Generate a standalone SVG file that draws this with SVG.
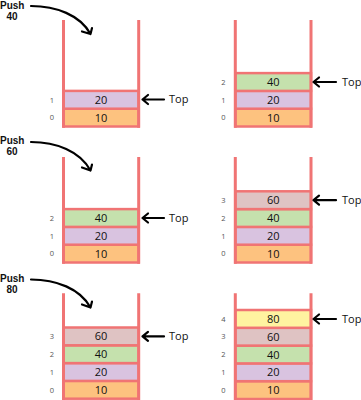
<svg xmlns="http://www.w3.org/2000/svg" width="361" height="400" viewBox="0 0 361 400">
<style>
.wall{stroke:#f07474;stroke-width:3;fill:none}
.cell{stroke:#f07474;stroke-width:2.5}
.c10{fill:#fdc27f}.c20{fill:#d9c3e0}.c40{fill:#c5e1ad}.c60{fill:#dfc3c3}.c80{fill:#fff3a0}
.num{font-family:'Open Sans','Liberation Sans',sans-serif;font-size:11px;fill:#111;text-anchor:middle}
.idx{font-family:'Open Sans','Liberation Sans',sans-serif;font-size:7.5px;fill:#555;text-anchor:middle}
.lbl{font-family:'Open Sans','Liberation Sans',sans-serif;font-size:11px;font-weight:500;fill:#111}
.push{font-family:'Liberation Sans',Arial,sans-serif;font-size:10px;font-weight:bold;fill:#111}
.arr{stroke:#000;stroke-width:2.2;fill:none;stroke-linecap:round;stroke-linejoin:round}
</style>
<rect width="361" height="400" fill="#fff"/>

<g id="stack1">
<rect class="cell c10" x="63.5" y="108.7" width="75.2" height="17.8"/>
<rect class="cell c20" x="63.5" y="90.9" width="75.2" height="17.8"/>
<path class="wall" d="M63.5 20V127.8M138.7 20V127.8"/>
<text class="num" x="101.1" y="121.6">10</text><text class="num" x="101.1" y="103.8">20</text>
<text class="idx" x="52" y="120.3">0</text><text class="idx" x="52" y="102.5">1</text>
</g>

<g id="stack2">
<rect class="cell c10" x="235.3" y="108.7" width="75.7" height="17.8"/>
<rect class="cell c20" x="235.3" y="90.9" width="75.7" height="17.8"/>
<rect class="cell c40" x="235.3" y="73.1" width="75.7" height="17.8"/>
<path class="wall" d="M235.3 20V127.8M311 20V127.8"/>
<text class="num" x="273.2" y="121.6">10</text><text class="num" x="273.2" y="103.8">20</text><text class="num" x="273.2" y="86">40</text>
<text class="idx" x="223.5" y="120.3">0</text><text class="idx" x="223.5" y="102.5">1</text><text class="idx" x="223.5" y="84.7">2</text>
</g>

<g id="stack3">
<rect class="cell c10" x="63.5" y="244.7" width="75.2" height="17.8"/>
<rect class="cell c20" x="63.5" y="226.9" width="75.2" height="17.8"/>
<rect class="cell c40" x="63.5" y="209.1" width="75.2" height="17.8"/>
<path class="wall" d="M63.5 157V263.8M138.7 157V263.8"/>
<text class="num" x="101.1" y="257.6">10</text><text class="num" x="101.1" y="239.8">20</text><text class="num" x="101.1" y="222">40</text>
<text class="idx" x="52" y="256.3">0</text><text class="idx" x="52" y="238.5">1</text><text class="idx" x="52" y="220.7">2</text>
</g>

<g id="stack4">
<rect class="cell c10" x="235.3" y="244.7" width="75.7" height="17.8"/>
<rect class="cell c20" x="235.3" y="226.9" width="75.7" height="17.8"/>
<rect class="cell c40" x="235.3" y="209.1" width="75.7" height="17.8"/>
<rect class="cell c60" x="235.3" y="191.3" width="75.7" height="17.8"/>
<path class="wall" d="M235.3 157V263.8M311 157V263.8"/>
<text class="num" x="273.2" y="257.6">10</text><text class="num" x="273.2" y="239.8">20</text><text class="num" x="273.2" y="222">40</text><text class="num" x="273.2" y="204.2">60</text>
<text class="idx" x="223.5" y="256.3">0</text><text class="idx" x="223.5" y="238.5">1</text><text class="idx" x="223.5" y="220.7">2</text><text class="idx" x="223.5" y="202.9">3</text>
</g>

<g id="stack5">
<rect class="cell c10" x="63.5" y="380.9" width="75.2" height="17.8"/>
<rect class="cell c20" x="63.5" y="363.1" width="75.2" height="17.8"/>
<rect class="cell c40" x="63.5" y="345.3" width="75.2" height="17.8"/>
<rect class="cell c60" x="63.5" y="327.5" width="75.2" height="17.8"/>
<path class="wall" d="M63.5 293.3V400M138.7 293.3V400"/>
<text class="num" x="101.1" y="393.8">10</text><text class="num" x="101.1" y="376">20</text><text class="num" x="101.1" y="358.2">40</text><text class="num" x="101.1" y="340.4">60</text>
<text class="idx" x="52" y="392.5">0</text><text class="idx" x="52" y="374.7">1</text><text class="idx" x="52" y="356.9">2</text><text class="idx" x="52" y="339.1">3</text>
</g>

<g id="stack6">
<rect class="cell c10" x="235.3" y="381.2" width="75.7" height="17.8"/>
<rect class="cell c20" x="235.3" y="363.4" width="75.7" height="17.8"/>
<rect class="cell c40" x="235.3" y="345.6" width="75.7" height="17.8"/>
<rect class="cell c60" x="235.3" y="327.8" width="75.7" height="17.8"/>
<rect class="cell c80" x="235.3" y="310" width="75.7" height="17.8"/>
<path class="wall" d="M235.3 293.3V400M311 293.3V400"/>
<text class="num" x="273.2" y="394.1">10</text><text class="num" x="273.2" y="376.3">20</text><text class="num" x="273.2" y="358.5">40</text><text class="num" x="273.2" y="340.7">60</text><text class="num" x="273.2" y="322.9">80</text>
<text class="idx" x="223.5" y="392.8">0</text><text class="idx" x="223.5" y="375">1</text><text class="idx" x="223.5" y="357.2">2</text><text class="idx" x="223.5" y="339.4">3</text><text class="idx" x="223.5" y="321.6">4</text>
</g>

<g id="labels">
<text class="push" x="0" y="9.4">Push</text><text class="push" x="12" y="20.2" text-anchor="middle">40</text>
<text class="push" x="0" y="144.3">Push</text><text class="push" x="12" y="155.1" text-anchor="middle">60</text>
<text class="push" x="0" y="281.8">Push</text><text class="push" x="12" y="292.6" text-anchor="middle">80</text>
<text class="lbl" x="169" y="103.3">Top</text>
<text class="lbl" x="342" y="85.8">Top</text>
<text class="lbl" x="169" y="221.8">Top</text>
<text class="lbl" x="342" y="204">Top</text>
<text class="lbl" x="169" y="340.2">Top</text>
<text class="lbl" x="342" y="322.7">Top</text>
</g>

<g id="connectors">
<path class="arr" d="M31 6C56 6 80 15 90.5 34M82 31.5L90.5 34L92 28"/>
<path class="arr" d="M31 142C56 142 80 151 90.5 170.5M82 167.5L90.5 170.5L92 164.5"/>
<path class="arr" d="M31 279.5C56 279.5 80 288.5 90.5 307.5M82 304.5L90.5 307.5L92 301.5"/>
<path class="arr" d="M142.5 99.5H164M148 95L142.5 99.5L148 104"/>
<path class="arr" d="M313.5 82H336M319 77.5L313.5 82L319 86.5"/>
<path class="arr" d="M142.5 218H164M148 213.5L142.5 218L148 222.5"/>
<path class="arr" d="M313.5 200.2H336M319 195.7L313.5 200.2L319 204.7"/>
<path class="arr" d="M142.5 336.4H164M148 331.9L142.5 336.4L148 340.9"/>
<path class="arr" d="M313.5 319H336M319 314.5L313.5 319L319 323.5"/>
</g>
</svg>
